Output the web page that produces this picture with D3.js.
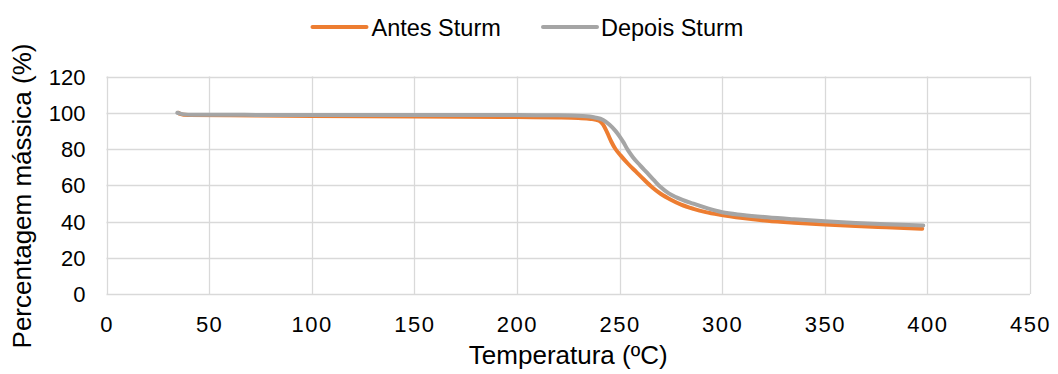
<!DOCTYPE html>
<html>
<head>
<meta charset="utf-8">
<script src="https://cdn.jsdelivr.net/npm/d3@7"></script>
<style>
  html, body { margin: 0; padding: 0; background: #fff; }
  svg { display: block; }
  text { font-family: "Liberation Sans", Arial, sans-serif; fill: #000; }
</style>
</head>
<body>
<svg id="chart" width="1058" height="374"></svg>
<script>
// ---- data ----
const seriesNames = ["Antes Sturm", "Depois Sturm"];
const antesTemp = [35, 36, 37.5, 40, 60, 100, 150, 200, 220, 230, 236, 240, 242, 244, 246, 248, 250.5, 254, 258, 262, 266, 270, 275, 280, 286, 292, 299, 310, 322, 335, 350, 365, 380, 397.5];
const antesMass = [100, 99.3, 98.9, 98.8, 98.6, 98.2, 97.9, 97.6, 97.4, 97.1, 96.6, 95.6, 93.5, 89, 84, 80, 76.5, 72, 67.5, 63, 58.8, 55.3, 52, 49.3, 47, 45.2, 43.7, 41.9, 40.4, 39.3, 38.3, 37.5, 36.8, 36];
const depoisTemp = [34.5, 36, 38, 41, 100, 150, 200, 220, 232, 238, 242, 245, 248, 250, 252, 254, 256.5, 260, 263.5, 267, 270, 274, 278, 286, 293, 300, 310, 322, 335, 350, 365, 380, 398];
const depoisMass = [100, 99.5, 99.1, 98.9, 98.8, 98.8, 98.7, 98.6, 98.2, 97.4, 96, 93.5, 90, 87, 83.5, 79.5, 75.5, 71, 66.8, 62.5, 59, 55.5, 53.2, 49.8, 47.2, 45.1, 43.6, 42.3, 41.2, 40.1, 39.2, 38.5, 37.8];
const xTicks = [0, 50, 100, 150, 200, 250, 300, 350, 400, 450];
const yTicks = [0, 20, 40, 60, 80, 100, 120];
const xTitle = "Temperatura (ºC)";
const yTitle = "Percentagem mássica (%)";
const colors = ["#ED7D31", "#A5A5A5"];

// ---- layout ----
const svg = d3.select("#chart");
const plot = { left: 106.5, right: 1030, top: 76.5, bottom: 294 };
const x = d3.scaleLinear().domain([0, 450]).range([plot.left, plot.right]);
const y = d3.scaleLinear().domain([0, 120]).range([plot.bottom, plot.top]);

// gridlines
const grid = svg.append("g");
grid.selectAll("line.h").data(yTicks).join("line")
  .attr("x1", plot.left).attr("x2", plot.right)
  .attr("y1", d => Math.round(y(d)) + 0.5).attr("y2", d => Math.round(y(d)) + 0.5)
  .attr("stroke", "#D9D9D9").attr("stroke-width", 1.3);
grid.selectAll("line.v").data(xTicks).join("line")
  .attr("y1", plot.top).attr("y2", plot.bottom)
  .attr("x1", d => Math.round(x(d)) + 0.5).attr("x2", d => Math.round(x(d)) + 0.5)
  .attr("stroke", "#D9D9D9").attr("stroke-width", 1.3);

// axes labels (via d3 axes, without domain/ticks)
const xAxis = svg.append("g").attr("transform", `translate(0,${plot.bottom})`)
  .call(d3.axisBottom(x).tickValues(xTicks).tickSize(0).tickPadding(0));
xAxis.select(".domain").remove();
xAxis.selectAll("text").attr("y", 38).attr("dy", 0)
  .style("font-size", "22px").style("letter-spacing", "1.5px")
  .style("font-family", "'Liberation Sans', Arial, sans-serif").attr("fill", "#000");

const yAxis = svg.append("g").attr("transform", `translate(${plot.left},0)`)
  .call(d3.axisLeft(y).tickValues(yTicks).tickSize(0).tickPadding(0));
yAxis.select(".domain").remove();
yAxis.selectAll("text").attr("x", -21).attr("dy", "0.35em")
  .style("font-size", "22px")
  .style("font-family", "'Liberation Sans', Arial, sans-serif").attr("fill", "#000");

// lines
const seriesData = [
  antesTemp.map((t, i) => [t, antesMass[i]]),
  depoisTemp.map((t, i) => [t, depoisMass[i]])
];
const line = d3.line().x(d => x(d[0])).y(d => y(d[1])).curve(d3.curveMonotoneX);
svg.append("g").selectAll("path").data(seriesData).join("path")
  .attr("d", line)
  .attr("fill", "none")
  .attr("stroke", (d, i) => colors[i])
  .attr("stroke-width", 4)
  .attr("stroke-linecap", "round")
  .attr("stroke-linejoin", "round");

// axis titles
svg.append("text").attr("x", (plot.left + plot.right) / 2).attr("y", 364)
  .attr("text-anchor", "middle").style("font-size", "26px").text(xTitle);
svg.append("text").attr("transform", "translate(31,196) rotate(-90)")
  .attr("text-anchor", "middle").style("font-size", "26px").text(yTitle);

// legend
const legendItems = [
  { name: seriesNames[0], color: colors[0], x0: 312.5, x1: 366.5, tx: 371.5 },
  { name: seriesNames[1], color: colors[1], x0: 543, x1: 597, tx: 601 }
];
const lg = svg.append("g");
legendItems.forEach(it => {
  lg.append("line").attr("x1", it.x0).attr("x2", it.x1).attr("y1", 27).attr("y2", 27)
    .attr("stroke", it.color).attr("stroke-width", 4).attr("stroke-linecap", "round");
  lg.append("text").attr("x", it.tx).attr("y", 35.5).style("font-size", "23.5px").text(it.name);
});
</script>
</body>
</html>
